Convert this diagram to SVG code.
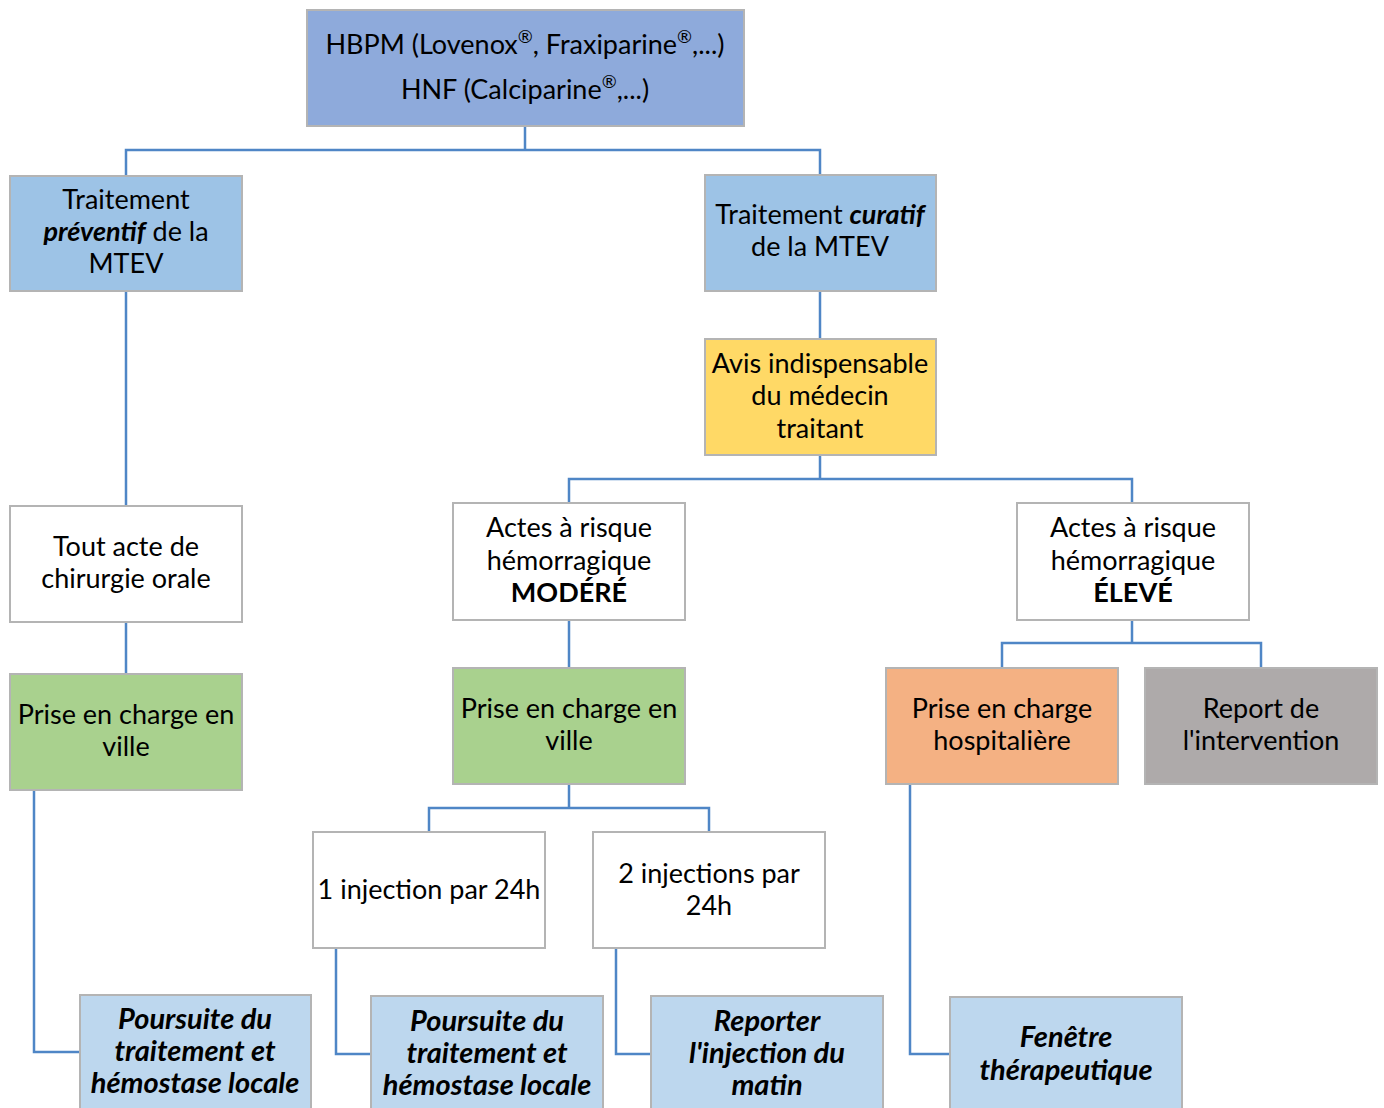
<svg xmlns="http://www.w3.org/2000/svg" width="1384" height="1108" viewBox="0 0 1384 1108">
<style>
.box{stroke:#b4b4b4;stroke-width:2}
.t{font-family:Lato,"Liberation Sans",sans-serif;font-size:27px;fill:#000;text-anchor:middle}
.bi{font-weight:bold;font-style:italic}
.big{font-size:29px}
.b{font-weight:bold}
.reg{font-size:18px;baseline-shift:super}
.c{fill:none;stroke:#4f86c6;stroke-width:2.5}
</style>
<rect width="1384" height="1108" fill="#fff"/>
<g id="connectors">
<path class="c" d="M525,126V150M126,176V150H820V175"/>
<path class="c" d="M126,291V506"/>
<path class="c" d="M820,291V339"/>
<path class="c" d="M820,455V479M569,503V479H1132V503"/>
<path class="c" d="M126,622V674"/>
<path class="c" d="M569,620V668"/>
<path class="c" d="M1132,620V643M1002,668V643H1261V668"/>
<path class="c" d="M569,784V808M429,832V808H709V832"/>
<path class="c" d="M34,790V1052H80"/>
<path class="c" d="M336,948V1054H371"/>
<path class="c" d="M616,948V1054H651"/>
<path class="c" d="M910,784V1054H950"/>
</g>
<g id="n-top"><rect class="box" x="307" y="10" width="437" height="116" fill="#8eaadb"/>
<text class="t" x="525" y="54">HBPM (Lovenox<tspan class="reg">®</tspan>, Fraxiparine<tspan class="reg">®</tspan>,...)</text>
<text class="t" x="525" y="99">HNF (Calciparine<tspan class="reg">®</tspan>,...)</text></g>
<g id="n-preventif"><rect class="box" x="10" y="176" width="232" height="115" fill="#9dc3e6"/>
<text class="t" x="126" y="209">Traitement</text>
<text class="t" x="126" y="241"><tspan class="bi">préventif</tspan> de la</text>
<text class="t" x="126" y="273">MTEV</text></g>
<g id="n-curatif"><rect class="box" x="705" y="175" width="231" height="116" fill="#9dc3e6"/>
<text class="t" x="820" y="224">Traitement <tspan class="bi">curatif</tspan></text>
<text class="t" x="820" y="256">de la MTEV</text></g>
<g id="n-avis"><rect class="box" x="705" y="339" width="231" height="116" fill="#ffd966"/>
<text class="t" x="820" y="373">Avis indispensable</text>
<text class="t" x="820" y="405">du médecin</text>
<text class="t" x="820" y="438">traitant</text></g>
<g id="n-tout"><rect class="box" x="10" y="506" width="232" height="116" fill="#fff"/>
<text class="t" x="126" y="556">Tout acte de</text>
<text class="t" x="126" y="588">chirurgie orale</text></g>
<g id="n-modere"><rect class="box" x="453" y="503" width="232" height="117" fill="#fff"/>
<text class="t" x="569" y="537">Actes à risque</text>
<text class="t" x="569" y="570">hémorragique</text>
<text class="t b" x="569" y="602">MODÉRÉ</text></g>
<g id="n-eleve"><rect class="box" x="1017" y="503" width="232" height="117" fill="#fff"/>
<text class="t" x="1133" y="537">Actes à risque</text>
<text class="t" x="1133" y="570">hémorragique</text>
<text class="t b" x="1133" y="602">ÉLEVÉ</text></g>
<g id="n-ville1"><rect class="box" x="10" y="674" width="232" height="116" fill="#a9d18e"/>
<text class="t" x="126" y="724">Prise en charge en</text>
<text class="t" x="126" y="756">ville</text></g>
<g id="n-ville2"><rect class="box" x="453" y="668" width="232" height="116" fill="#a9d18e"/>
<text class="t" x="569" y="718">Prise en charge en</text>
<text class="t" x="569" y="750">ville</text></g>
<g id="n-hosp"><rect class="box" x="886" y="668" width="232" height="116" fill="#f4b183"/>
<text class="t" x="1002" y="718">Prise en charge</text>
<text class="t" x="1002" y="750">hospitalière</text></g>
<g id="n-report"><rect class="box" x="1145" y="668" width="232" height="116" fill="#aeaaaa"/>
<text class="t" x="1261" y="718">Report de</text>
<text class="t" x="1261" y="750">l'intervention</text></g>
<g id="n-inj1"><rect class="box" x="313" y="832" width="232" height="116" fill="#fff"/>
<text class="t" x="429" y="899">1 injection par 24h</text></g>
<g id="n-inj2"><rect class="box" x="593" y="832" width="232" height="116" fill="#fff"/>
<text class="t" x="709" y="883">2 injections par</text>
<text class="t" x="709" y="915">24h</text></g>
<g id="n-pours1"><rect class="box" x="80" y="995" width="231" height="120" fill="#bdd7ee"/>
<text class="t bi big" x="195" y="1029">Poursuite du</text>
<text class="t bi big" x="195" y="1061">traitement et</text>
<text class="t bi big" x="195" y="1093">hémostase locale</text></g>
<g id="n-pours2"><rect class="box" x="371" y="996" width="232" height="120" fill="#bdd7ee"/>
<text class="t bi big" x="487" y="1031">Poursuite du</text>
<text class="t bi big" x="487" y="1063">traitement et</text>
<text class="t bi big" x="487" y="1095">hémostase locale</text></g>
<g id="n-reporter"><rect class="box" x="651" y="996" width="232" height="120" fill="#bdd7ee"/>
<text class="t bi big" x="767" y="1031">Reporter</text>
<text class="t bi big" x="767" y="1063">l'injection du</text>
<text class="t bi big" x="767" y="1095">matin</text></g>
<g id="n-fenetre"><rect class="box" x="950" y="997" width="232" height="120" fill="#bdd7ee"/>
<text class="t bi big" x="1066" y="1047">Fenêtre</text>
<text class="t bi big" x="1066" y="1080">thérapeutique</text></g>
</svg>
